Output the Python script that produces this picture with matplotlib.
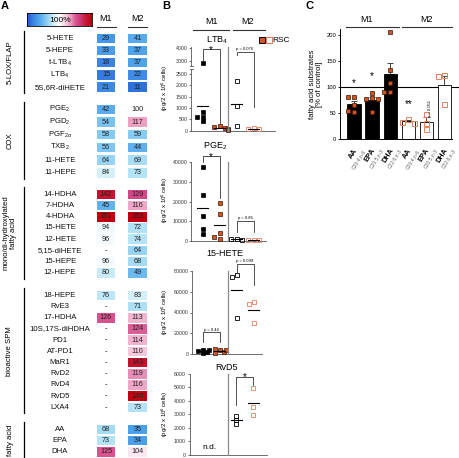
import numpy as np
import matplotlib
matplotlib.use("Agg")
import matplotlib.pyplot as plt
from matplotlib.colors import LinearSegmentedColormap, TwoSlopeNorm
from matplotlib.patches import Rectangle
from matplotlib.transforms import offset_copy

plt.rcParams["font.family"] = ["Liberation Sans", "DejaVu Sans"]
plt.rcParams["mathtext.fontset"] = "custom"
plt.rcParams["mathtext.rm"] = "Liberation Sans"
plt.rcParams["mathtext.it"] = "Liberation Sans:italic"
plt.rcParams["mathtext.bf"] = "Liberation Sans:bold"

# =====================================================
# Data
# =====================================================
# A: lipid mediators, % of control (None = not detected)
GROUP_NAMES = ["5-LOX/FLAP", "COX", "mono/di-hydroxylated\nfatty acid",
               "bioactive SPM", "fatty acid"]
GROUP_LIPIDS = [
    ["5-HETE", "5-HEPE", "t-LTB$_4$", "LTB$_4$", "5S,6R-diHETE"],
    ["PGE$_2$", "PGD$_2$", "PGF$_{2\\alpha}$", "TXB$_2$", "11-HETE", "11-HEPE"],
    ["14-HDHA", "7-HDHA", "4-HDHA", "15-HETE", "12-HETE", "5,15-diHETE",
     "15-HEPE", "12-HEPE"],
    ["18-HEPE", "RvE3", "17-HDHA", "10S,17S-diHDHA", "PD1", "AT-PD1", "MaR1",
     "RvD2", "RvD4", "RvD5", "LXA4"],
    ["AA", "EPA", "DHA"],
]
M1_PCT = [
    [29, 33, 18, 15, 21],
    [42, 54, 58, 56, 64, 84],
    [142, 45, 151, 94, 96, None, 96, 80],
    [76, None, 126, None, None, None, None, None, None, None, None],
    [68, 73, 125],
]
M2_PCT = [
    [41, 37, 37, 22, 11],
    [100, 117, 59, 44, 69, 73],
    [129, 116, 153, 72, 74, 64, 68, 49],
    [83, 71, 113, 124, 114, 110, 143, 119, 116, 149, 73],
    [35, 34, 104],
]

# B: pg / 2x10^6 cells  (order: M1, M1+RSC, M2, M2+RSC)
LTB4_M1 = [2900, 810, 620, 620, 440]
LTB4_M1_RSC = [200, 170, 120, 90, 40]
LTB4_M2 = [2180, 1070, 220]
LTB4_M2_RSC = [110, 90, 70]

PGE2_M1 = [37400, 23200, 12600, 6100, 3300]
PGE2_M1_RSC = [19000, 13500, 3800, 2000, 900]
PGE2_M2 = [900, 700, 500]
PGE2_M2_RSC = [300, 250, 200]

HETE15_M1 = [4500, 3000, 1200, 2500, 4200]
HETE15_M1_RSC = [4300, 4600, 1500, 2200, 4000]
HETE15_M2 = [75500, 73500, 34500]
HETE15_M2_RSC = [50500, 48500, 29500]

RVD5_M2 = [2900, 2550, 2250]
RVD5_M2_RSC = [4950, 3550, 2950]

# C: fatty acid substrates, % of control
C_NAMES = ["AA", "EPA", "DHA", "AA", "EPA", "DHA"]
C_FORMULA = ["C20:4,n-6", "C20:5,n-3", "C22:6,n-3"] * 2
C_M1_AA = [81, 80, 66, 53, 54]
C_M1_EPA = [88, 79, 77, 76, 53]
C_M1_DHA = [205, 132, 107, 90, 90]
C_M2_AA = [38, 33, 32]
C_M2_EPA = [49, 32, 19]
C_M2_DHA = [123, 120, 67]

# =====================================================
# Style
# =====================================================
W, H = 459, 458
ORANGE = "#d2541f"
DARK_EDGE = "#3a160a"
SALMON = "#e2805f"
AXGREY = "#555555"

heat_cmap = LinearSegmentedColormap.from_list("heat", [
    (0.0, "#1d55c9"), (0.05, "#2e6fd8"), (0.1, "#3d88e4"), (0.18, "#4ca2ec"),
    (0.28, "#7ec6f3"), (0.34, "#a5dbf5"), (0.41, "#cfeefa"), (0.5, "#ffffff"),
    (0.6, "#f7c8dc"), (0.67, "#eea0c4"), (0.75, "#d8558f"), (0.8, "#d04385"),
    (0.9, "#c41a3a"), (1.0, "#c00010")])
heat_norm = TwoSlopeNorm(vmin=0, vcenter=100, vmax=150)

fig = plt.figure(figsize=(W / 100, H / 100), dpi=100)
ov = fig.add_axes([0, 0, 1, 1])
ov.set_xlim(0, W)
ov.set_ylim(H, 0)
ov.axis("off")
ov.set_zorder(10)


def pax(x0, y0, x1, y1):
    return fig.add_axes([x0 / W, 1 - y1 / H, (x1 - x0) / W, (y1 - y0) / H])


def to_px(ax, x, y):
    return ov.transData.inverted().transform(ax.transData.transform((x, y)))


def header(x, y, text, x0, x1, yl):
    ov.text(x, y, text, ha="center", va="center", fontsize=6.5)
    ov.plot([x0, x1], [yl, yl], color="#333333", lw=0.8)


# panel letters
for lx, lab in ((5, "A"), (166, "B"), (309, "C")):
    ov.text(lx, 6, lab, ha="center", va="center", fontsize=8, fontweight="bold")

# =====================================================
# A  heatmap
# =====================================================
GROUP_TOP = [38.3, 109.3, 194.3, 295.3, 429.3]
GROUP_STEP = [12.2, 12.7, 11.2, 11.2, 11.2]
COL_X = [106.0, 137.5]
CELL_W, CELL_H = 18.5, 9.6

cbar = pax(27, 13, 92, 26)
cbar.imshow(np.linspace(0, 1, 256)[None, :], cmap=heat_cmap, aspect="auto",
            extent=(0, 1, 0, 1))
cbar.set_xticks([])
cbar.set_yticks([])
for s in cbar.spines.values():
    s.set_linewidth(0.6)
ov.text(60, 20, "100%", ha="center", va="center", fontsize=6)
header(COL_X[0], 18.5, "M1", 97, 116, 27)
header(COL_X[1], 18.5, "M2", 128, 147, 27)

for g, name in enumerate(GROUP_NAMES):
    lipids = GROUP_LIPIDS[g]
    ys = [GROUP_TOP[g] + i * GROUP_STEP[g] for i in range(len(lipids))]
    for y, lab, a, b in zip(ys, lipids, M1_PCT[g], M2_PCT[g]):
        ov.text(60, y, lab, ha="center", va="center", fontsize=5.6, color="#111111")
        for cx, v in zip(COL_X, (a, b)):
            if v is None:
                ov.text(cx, y, "-", ha="center", va="center", fontsize=5.2)
                continue
            ov.add_patch(Rectangle((cx - CELL_W / 2, y - CELL_H / 2), CELL_W, CELL_H,
                                   facecolor=heat_cmap(heat_norm(v)), edgecolor="none"))
            ov.text(cx, y, str(v), ha="center", va="center", fontsize=5.2, color="#222222")
    y0 = ys[0] - 7
    y1 = H if g == len(GROUP_NAMES) - 1 else ys[-1] + 6
    ov.plot([24, 24], [y0, y1], color="black", lw=0.9)
    ov.text(10, (y0 + y1) / 2, name, rotation=90, ha="center", va="center",
            fontsize=5.6, linespacing=1.1)

# =====================================================
# B  dot plots
# =====================================================
header(211.5, 21.5, "M1", 193, 229, 30)
header(248, 21.5, "M2", 233, 265, 30)

STYLES = [
    dict(marker="s", ms=3.2, mfc="black", mec="black", mew=0.5),
    dict(marker="s", ms=3.2, mfc=ORANGE, mec=DARK_EDGE, mew=0.5),
    dict(marker="s", ms=3.2, mfc="none", mec="black", mew=0.6),
    dict(marker="s", ms=3.2, mfc="none", mec=SALMON, mew=0.6),
]


def b_axes(x0, top, x1, bottom, ylim, yticks, bottom_spine=True):
    ax = pax(x0, top, x1, bottom)
    ax.set_xlim(1 - (202.5 - x0) / 17, 1 + (x1 - 202.5) / 17)
    ax.set_ylim(*ylim)
    ax.set_yticks(yticks)
    ax.set_xticks([])
    ax.patch.set_alpha(0)
    for s in ("top", "right"):
        ax.spines[s].set_visible(False)
    ax.spines["bottom"].set_visible(bottom_spine)
    for s in ("left", "bottom"):
        ax.spines[s].set_color(AXGREY)
        ax.spines[s].set_linewidth(0.6)
    ax.tick_params(axis="y", labelsize=3.8, length=1.5, width=0.5, pad=1,
                   colors="#333333")
    return ax


def pick(axes, v):
    for ax in axes:
        lo, hi = ax.get_ylim()
        if lo <= v <= hi:
            return ax
    return axes[-1]


def swarm(axes, xc, vals, style, step=0.16, thr=3.8, mean_line=True):
    placed = []
    for v in vals:
        ax = pick(axes, v)
        for k in (0, -1, 1, -2, 2, -3, 3):
            x = xc + k * step
            p = ax.transData.transform((x, v))
            if all(max(abs(p[0] - q[0]), abs(p[1] - q[1])) > thr for q in placed):
                break
        placed.append(p)
        ax.plot(x, v, ls="none", clip_on=False, zorder=3, **style)
    if mean_line:
        m = np.mean(vals)
        axm = pick(axes, m)
        axm.plot([xc - 0.33, xc + 0.33], [m, m], color="black", lw=0.8, zorder=4)


def bracket(axes, x1, x2, ytop, yl, yr, label):
    _, pt = to_px(pick(axes, ytop), x1, ytop)
    xl, pl = to_px(pick(axes, yl), x1, yl)
    xr, pr = to_px(pick(axes, yr), x2, yr)
    ov.plot([xl, xl, xr, xr], [pl, pt, pt, pr], color="#333333", lw=0.6)
    if label.startswith("*"):
        ov.text((xl + xr) / 2, pt + 0.8, label, ha="center", va="center", fontsize=7)
    else:
        ov.text((xl + xr) / 2, pt - 0.8, label, ha="center", va="bottom", fontsize=3)


def divider(ax_bottom, ax_top):
    x, yb = to_px(ax_bottom, 2.5, ax_bottom.get_ylim()[0])
    _, yt = to_px(ax_top, 2.5, ax_top.get_ylim()[1])
    ov.plot([x, x], [yb, yt], color="#8a8a8a", lw=0.9)


YLAB = "(pg/2 x 10$^6$ cells)"

# --- LTB4 (broken axis)
lt_lo = b_axes(191, 69, 275, 130.7, (0, 2720), [0, 500, 1000, 1500, 2000, 2500])
lt_hi = b_axes(191, 46.5, 275, 65.7, (2669, 4113), [3000, 4000], bottom_spine=False)
ltb = [lt_lo, lt_hi]
for i, vals in enumerate((LTB4_M1, LTB4_M1_RSC, LTB4_M2, LTB4_M2_RSC)):
    swarm(ltb, i + 1, vals, STYLES[i])
divider(lt_lo, lt_hi)
for yy in (65.7, 69):
    ov.plot([189.5, 192.5], [yy, yy], color=AXGREY, lw=0.6)
bracket(ltb, 1, 2, 3900, 3050, 340, "*")
bracket(ltb, 3, 4, 3720, 3470, 1044, "p = 0.076")
ov.text(216.7, 40, "LTB$_4$", ha="center", va="center", fontsize=6.5)
ov.text(165, 88, YLAB, rotation=90, ha="center", va="center", fontsize=4.3)
ov.plot([262], [40], ls="none", marker="s", ms=4.3, mfc=ORANGE, mec="black", mew=0.7)
ov.plot([268.5], [40], ls="none", marker="s", ms=4.3, mfc="white", mec=SALMON, mew=0.8)
ov.text(272.5, 40, "RSC", ha="left", va="center", fontsize=6)

# --- PGE2
pg = b_axes(191, 162.3, 266, 240.7, (0, 40000), [0, 10000, 20000, 30000, 40000])
for i, vals in enumerate((PGE2_M1, PGE2_M1_RSC, PGE2_M2, PGE2_M2_RSC)):
    swarm([pg], i + 1, vals, STYLES[i])
divider(pg, pg)
bracket([pg], 1, 2, 43200, 40150, 21800, "*")
bracket([pg], 3, 4, 9900, 4440, 4440, "p = 0.86")
ov.text(215, 146, "PGE$_2$", ha="center", va="center", fontsize=6.5)
ov.text(165, 200, YLAB, rotation=90, ha="center", va="center", fontsize=4.3)

# --- 15-HETE
he = b_axes(192, 270.7, 262, 354.3, (0, 80000), [0, 20000, 40000, 60000, 80000])
for i, vals in enumerate((HETE15_M1, HETE15_M1_RSC, HETE15_M2, HETE15_M2_RSC)):
    swarm([he], i + 1, vals, STYLES[i], step=0.13, thr=3.0)
divider(he, he)
bracket([he], 1, 2, 21050, 12060, 12060, "p = 0.44")
bracket([he], 3, 4, 86400, 79000, 66300, "p = 0.099")
ov.text(225, 253, "15-HETE", ha="center", va="center", fontsize=6.5)
ov.text(165, 312, YLAB, rotation=90, ha="center", va="center", fontsize=4.3)

# --- RvD5
rv = b_axes(189.5, 374, 267, 454.7, (0, 6000), [0, 1000, 2000, 3000, 4000, 5000, 6000])
swarm([rv], 3, RVD5_M2, STYLES[2])
swarm([rv], 4, RVD5_M2_RSC, STYLES[3])
divider(rv, rv)
bracket([rv], 3, 4, 5800, 3700, 5180, "*")
rv.text(1.4, 500, "n.d.", ha="center", va="center", fontsize=6)
ov.text(226.7, 367, "RvD5", ha="center", va="center", fontsize=6.5)
ov.text(165, 414, YLAB, rotation=90, ha="center", va="center", fontsize=4.3)

# =====================================================
# C  bar chart
# =====================================================
header(366.7, 20, "M1", 345.7, 399.3, 26.7)
header(426.7, 20, "M2", 401.7, 451.7, 26.7)

axc = pax(340, 29.3, 451.6, 139.3)
c_points = [C_M1_AA, C_M1_EPA, C_M1_DHA, C_M2_AA, C_M2_EPA, C_M2_DHA]
xs = np.arange(len(c_points))
means = [np.mean(p) for p in c_points]
sems = [np.std(p, ddof=1) / np.sqrt(len(p)) for p in c_points]
axc.set_xlim(-0.78, 5.4)
axc.set_ylim(0, 210)
axc.bar(xs, means, width=0.74, color=["black"] * 3 + ["white"] * 3,
        edgecolor="black", linewidth=0.6, zorder=2)
axc.errorbar(xs, means, yerr=[np.zeros(6), sems], fmt="none", ecolor="#444444",
             elinewidth=0.7, capsize=2.2, capthick=0.7, zorder=1)
for i, vals in enumerate(c_points):
    st = dict(marker="s", ms=3.4, mfc=ORANGE, mec=DARK_EDGE, mew=0.5) if i < 3 else \
        dict(marker="s", ms=3.6, mfc="none", mec=SALMON, mew=0.7)
    swarm([axc], i, vals, st, step=0.17, thr=3.4, mean_line=False)
axc.plot([-0.78, 5.75], [100, 100], color="black", lw=0.8, clip_on=False, zorder=0)
axc.set_yticks([0, 50, 100, 150, 200])
axc.set_xticks([])
for s in ("top", "right"):
    axc.spines[s].set_visible(False)
for s in ("left", "bottom"):
    axc.spines[s].set_linewidth(0.7)
axc.tick_params(axis="y", labelsize=4.2, length=1.8, width=0.6, pad=1)
axc.set_ylabel("fatty acid substrates\n[% of control]", fontsize=5.6,
               linespacing=1.0, labelpad=2)
for x, lab, y in ((0, "*", 108), (1, "*", 121), (3, "**", 67)):
    axc.text(x, y, lab, ha="center", va="center", fontsize=7)
axc.text(4.2, 59, "p = 0.051", rotation=90, ha="center", va="center", fontsize=3)

for i in range(6):
    t1 = offset_copy(axc.transData, fig=fig, x=-1.0, y=-8.0, units="dots")
    axc.text(xs[i], 0, C_NAMES[i], transform=t1, rotation=58, rotation_mode="anchor",
             ha="right", va="top", fontsize=5.2, fontweight="bold")
    t2 = offset_copy(axc.transData, fig=fig, x=8.0, y=-9.0, units="dots")
    axc.text(xs[i], 0, C_FORMULA[i], transform=t2, rotation=58, rotation_mode="anchor",
             ha="right", va="top", fontsize=3.6, color="#666666")

fig.savefig("out.png", dpi=100)
